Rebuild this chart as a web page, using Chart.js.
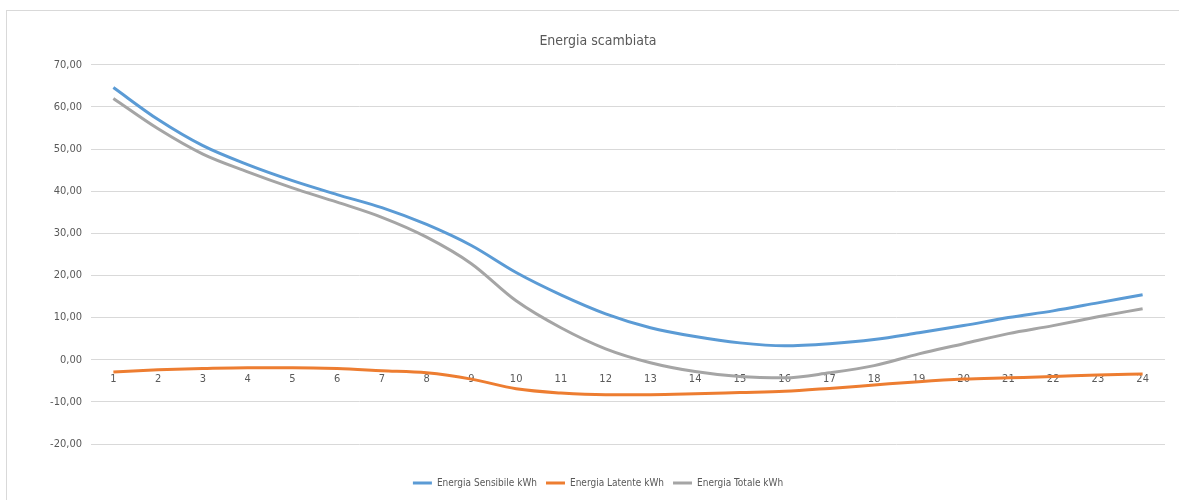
<!DOCTYPE html>
<html>
<head>
<meta charset="utf-8">
<script src="https://cdn.jsdelivr.net/npm/chart.js@4.4.1/dist/chart.umd.min.js"></script>
<style>
  html, body { margin: 0; padding: 0; background: #ffffff; }
  #wrap { position: relative; width: 1179px; height: 500px; }
</style>
</head>
<body>
<div id="wrap"><canvas id="c" width="1179" height="500"></canvas></div>
<script>
const hours = ['1','2','3','4','5','6','7','8','9','10','11','12','13','14','15','16','17','18','19','20','21','22','23','24'];
const sensibile = [64.6, 57.0, 50.8, 46.3, 42.5, 39.2, 36.1, 32.1, 27.1, 20.7, 15.4, 10.9, 7.6, 5.5, 4.0, 3.3, 3.8, 4.8, 6.4, 8.1, 10.0, 11.6, 13.5, 15.4];
const latente   = [-2.9, -2.4, -2.1, -1.9, -1.9, -2.1, -2.6, -3.1, -4.6, -6.9, -7.9, -8.3, -8.3, -8.1, -7.8, -7.5, -6.8, -6.0, -5.2, -4.6, -4.3, -4.0, -3.6, -3.4];
const totale    = [62.0, 54.8, 48.8, 44.6, 40.8, 37.4, 33.8, 29.1, 22.8, 14.0, 7.6, 2.6, -0.7, -2.8, -4.0, -4.3, -3.1, -1.4, 1.4, 3.8, 6.2, 8.1, 10.2, 12.1];
const seriesNames = ['Energia Sensibile kWh', 'Energia Latente kWh', 'Energia Totale kWh'];
const yTicks = [70, 60, 50, 40, 30, 20, 10, 0, -10, -20];

const FONT = "'Liberation Sans Narrow', 'DejaVu Sans Condensed', 'Liberation Sans', sans-serif";
const TXT = '#595959';

const frame = {
  id: 'frame',
  beforeDraw(chart) {
    const ctx = chart.ctx;
    ctx.save();
    ctx.fillStyle = '#ffffff';
    ctx.fillRect(0, 0, chart.width, chart.height);
    ctx.strokeStyle = '#d9d9d9';
    ctx.lineWidth = 1;
    ctx.strokeRect(6.5, 10.5, chart.width + 10, chart.height + 10);
    ctx.restore();
  }
};

function ds(label, data, color) {
  return {
    label, data,
    borderColor: color, backgroundColor: color,
    borderWidth: 3, pointRadius: 0, pointHoverRadius: 0,
    tension: 0.4, cubicInterpolationMode: 'monotone', fill: false
  };
}

new Chart(document.getElementById('c'), {
  type: 'line',
  data: {
    labels: hours,
    datasets: [
      ds(seriesNames[0], sensibile, '#5B9BD5'),
      ds(seriesNames[1], latente, '#ED7D31'),
      ds(seriesNames[2], totale, '#A5A5A5')
    ]
  },
  plugins: [frame],
  options: {
    responsive: false,
    animation: false,
    events: [],
    layout: { padding: { left: 31, right: 14, top: 0, bottom: 2 } },
    plugins: {
      title: {
        display: true, text: 'Energia scambiata', color: TXT,
        font: { family: FONT, size: 14, weight: 'normal' },
        padding: { top: 33, bottom: 15 }
      },
      subtitle: {
        display: true, text: ' ', position: 'bottom', weight: 500,
        font: { size: 10 }, padding: { top: 13, bottom: 0 }
      },
      legend: {
        position: 'bottom',
        labels: {
          color: TXT, font: { family: FONT, size: 10 },
          boxWidth: 19, boxHeight: 3, padding: 9,
          generateLabels: (chart) => Chart.defaults.plugins.legend.labels.generateLabels(chart).map(l => Object.assign(l, { lineWidth: 0 }))
        }
      },
      tooltip: { enabled: false }
    },
    scales: {
      x: {
        position: { y: 0 },
        offset: true,
        grid: { display: false },
        border: { display: false },
        ticks: { color: TXT, font: { family: FONT, size: 11 }, padding: 5, maxRotation: 0, autoSkip: false }
      },
      y: {
        min: -20, max: 70,
        afterBuildTicks: (s) => { s.ticks = yTicks.map(v => ({ value: v })); },
        afterFit: (s) => { s.width = 60; },
        grid: { color: '#d9d9d9', drawTicks: false },
        border: { display: false },
        ticks: {
          color: TXT, font: { family: FONT, size: 11 }, padding: 9,
          callback: (v) => Number(v).toFixed(2).replace('.', ',')
        }
      }
    }
  }
});
</script>
</body>
</html>
